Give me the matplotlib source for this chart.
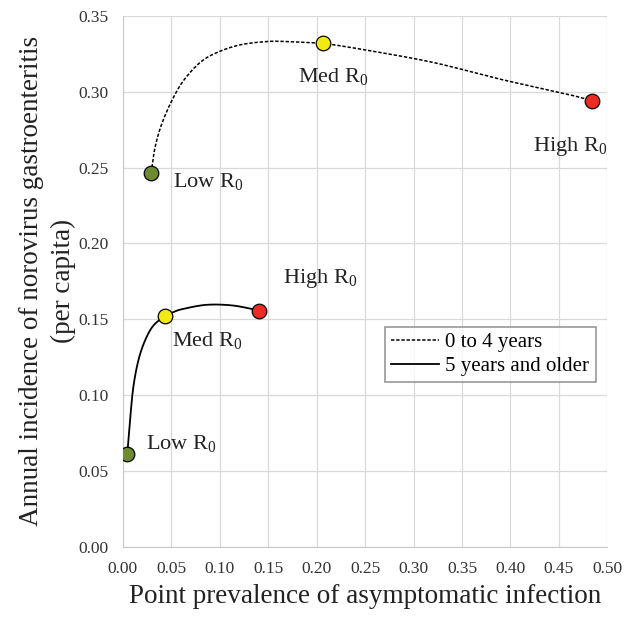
import matplotlib
matplotlib.use("Agg")
import matplotlib.pyplot as plt
import numpy as np

plt.rcParams['font.family'] = ['Liberation Serif', 'DejaVu Serif']
plt.rcParams['mathtext.fontset'] = 'custom'
plt.rcParams['mathtext.rm'] = 'Liberation Serif'
plt.rcParams['mathtext.it'] = 'Liberation Serif'

# curve, 0 to 4 years
young_x = [0.0295, 0.0333, 0.0402, 0.0506, 0.0625, 0.0798, 0.0970, 0.1210, 0.1486,
           0.1692, 0.1967, 0.2065, 0.2518, 0.3205, 0.3893, 0.4581, 0.4839]
young_y = [0.2467, 0.2633, 0.2787, 0.2941, 0.3072, 0.3193, 0.3258, 0.3309, 0.3331,
           0.3331, 0.3322, 0.3320, 0.3274, 0.3193, 0.3083, 0.2985, 0.2941]
# 5 years and older
old_x = [0.0047, 0.0075, 0.0109, 0.0161, 0.0230, 0.0316, 0.0433, 0.0530, 0.0625, 0.0867, 0.1141, 0.1406]
old_y = [0.0615, 0.0834, 0.1053, 0.1229, 0.1361, 0.1459, 0.1519, 0.1550, 0.1569, 0.1596, 0.1591, 0.1558]

# R0 scenario markers
young_pts_x = [0.0295, 0.2065, 0.4839]
young_pts_y = [0.2467, 0.3320, 0.2941]
old_pts_x = [0.0047, 0.0433, 0.1406]
old_pts_y = [0.0615, 0.1519, 0.1558]
scenarios = ["Low", "Med", "High"]
marker_colors = ["#6e8b32", "#f2ea12", "#ee2a24"]

# label positions (data coords)
young_lab_x = [0.0519, 0.1809, 0.4234]
young_lab_y = [0.2407, 0.3098, 0.2638]
old_lab_x = [0.0240, 0.0509, 0.1654]
old_lab_y = [0.0683, 0.1361, 0.1769]


def smooth(xs, ys, n=20):
    # catmull-rom through the traced points, done in screen-like units
    p = np.column_stack([np.array(xs) / 0.5, np.array(ys) / 0.35])
    p = np.vstack([p[0], p, p[-1]])
    out = []
    for i in range(1, len(p) - 2):
        p0, p1, p2, p3 = p[i - 1], p[i], p[i + 1], p[i + 2]
        for t in np.linspace(0, 1, n, endpoint=False):
            t2, t3 = t * t, t * t * t
            out.append(0.5 * ((2 * p1) + (-p0 + p2) * t + (2 * p0 - 5 * p1 + 4 * p2 - p3) * t2
                              + (-p0 + 3 * p1 - 3 * p2 + p3) * t3))
    out.append(p[-2])
    out = np.array(out)
    return out[:, 0] * 0.5, out[:, 1] * 0.35


fig = plt.figure(figsize=(6.36, 6.36), dpi=100)
ax = fig.add_axes([0.193, 0.140, 0.762, 0.835])

sx, sy = smooth(young_x, young_y)
ax.plot(sx, sy, color="black", linestyle=(0, (2.2, 1.2)), linewidth=1.1, label="0 to 4 years")
sx, sy = smooth(old_x, old_y)
ax.plot(sx, sy, color="black", linestyle="-", linewidth=1.3, label="5 years and older")

for i in range(3):
    ax.plot(young_pts_x[i], young_pts_y[i], "o", markersize=10.5, markerfacecolor=marker_colors[i],
            markeredgecolor="black", markeredgewidth=0.9, zorder=5)
    ax.plot(old_pts_x[i], old_pts_y[i], "o", markersize=10.5, markerfacecolor=marker_colors[i],
            markeredgecolor="black", markeredgewidth=0.9, zorder=5)
    ax.text(young_lab_x[i], young_lab_y[i], scenarios[i] + r" R$_0$", fontsize=16,
            ha="left", va="center", color="#222222")
    ax.text(old_lab_x[i], old_lab_y[i], scenarios[i] + r" R$_0$", fontsize=16,
            ha="left", va="center", color="#222222")

ax.set_xlim(0, 0.5)
ax.set_ylim(0, 0.35)
ax.set_xticks([i * 0.05 for i in range(11)])
ax.set_yticks([i * 0.05 for i in range(8)])
ax.set_xticklabels(["%.2f" % (i * 0.05) for i in range(11)])
ax.set_yticklabels(["%.2f" % (i * 0.05) for i in range(8)])
ax.tick_params(length=0, labelsize=12.5, colors="#333333", pad=10)
ax.grid(True, color="#d9d9d9", linewidth=0.9)
ax.set_axisbelow(True)
for s in ["top", "right"]:
    ax.spines[s].set_visible(False)
for s in ["left", "bottom"]:
    ax.spines[s].set_color("#c8c8c8")

ax.set_xlabel("Point prevalence of asymptomatic infection", fontsize=19.5, labelpad=5, color="#222222")
ax.set_ylabel("Annual incidence of norovirus gastroenteritis\n(per capita)", fontsize=19.5,
              labelpad=2, color="#222222", linespacing=1.35)

leg = ax.legend(loc="upper left", bbox_to_anchor=(0.541, 0.415), fontsize=15, frameon=True,
                fancybox=False, edgecolor="#7f7f7f", handlelength=2.3, handletextpad=0.3,
                borderpad=0.3, labelspacing=0.2, borderaxespad=0)
leg.get_frame().set_linewidth(1.2)

fig.savefig("out.png", dpi=100)
